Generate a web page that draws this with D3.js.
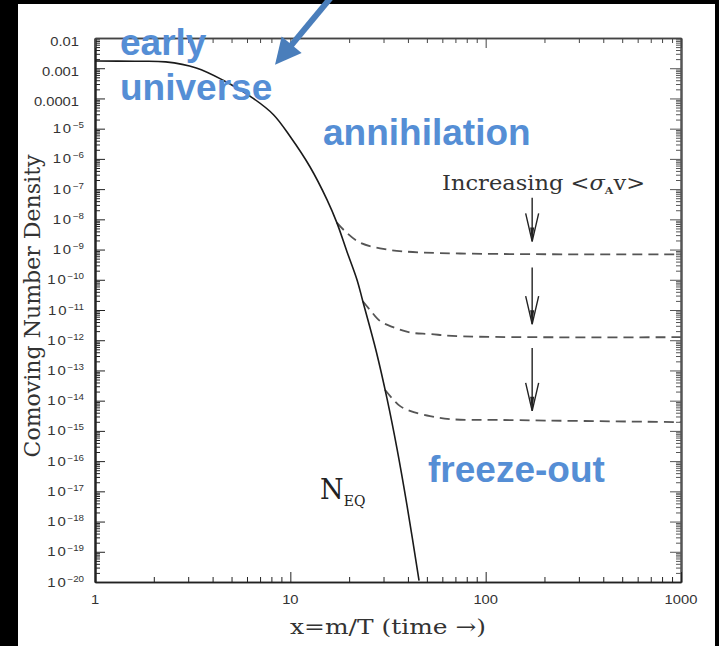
<!DOCTYPE html>
<html><head><meta charset="utf-8">
<script src="https://cdn.jsdelivr.net/npm/d3@7"></script>
<style>body{margin:0;background:#000;}svg{display:block}</style>
</head><body>
<svg id="chart" width="719" height="646"></svg>
<script>
// ---------- data ----------
const neqX = [1, 1.6, 2.3, 3.3, 4.5, 6.4, 8.2, 10, 12.6, 15.4, 17.3, 19.5, 22, 23.5, 27.5, 31.3, 35.2, 39.6, 45.6];
const neqY = [1.74e-3, 1.70e-3, 1.62e-3, 1.02e-3, 4.1e-4, 1.05e-4, 2.9e-5, 5.4e-6, 5.5e-7, 4.5e-8, 7.8e-9, 8.5e-10, 9.5e-11, 1.95e-11, 4.4e-13, 1.12e-14, 2.5e-16, 3.3e-18, 1.1e-20];

const dashAX = [17.3, 19.1, 22.7, 28.8, 37.8, 73.9, 1000];
const dashAY = [7.8e-9, 4.0e-9, 1.7e-9, 1.1e-9, 8.7e-10, 7.4e-10, 6.9e-10];
const dashBX = [23.5, 25.6, 28.8, 33.6, 41, 51.9, 73.9, 1000];
const dashBY = [1.95e-11, 1.0e-11, 4.3e-12, 2.7e-12, 1.8e-12, 1.6e-12, 1.35e-12, 1.26e-12];
const dashCX = [30.5, 33.2, 36.5, 41, 51.9, 65.7, 118.5, 1000];
const dashCY = [2.3e-14, 1.2e-14, 6.6e-15, 4.6e-15, 3.1e-15, 2.45e-15, 2.3e-15, 1.95e-15];

const arrowX = 173;
const arrowFrom = [5.2e-8, 2.57e-10, 5.5e-13];
const arrowTo = [1.86e-9, 3.4e-12, 4.6e-15];

const xTicks = [1, 10, 100, 1000];
const xTickLabels = ["1", "10", "100", "1000"];
const yTickExp = [-2, -3, -4, -5, -6, -7, -8, -9, -10, -11, -12, -13, -14, -15, -16, -17, -18, -19, -20];
const yTickPlain = {"-2": "0.01", "-3": "0.001", "-4": "0.0001"};

// annotations (data coordinates)
const blueLabels = [
  {t: "early", x: 1.343, y: 2.75e-3},
  {t: "universe", x: 1.343, y: 9.0e-5},
  {t: "annihilation", x: 14.7, y: 2.95e-6},
  {t: "freeze-out", x: 50.7, y: 2.0e-17}
];
const blueArrowTail = [16.5, 0.26];
const blueArrowTip = [8.35, 1.3e-3];
const incLabelPos = [59.8, 9.6e-8];
const neqLabelPos = [14.2, 5.6e-18];

// ---------- drawing ----------
const svg = d3.select("#chart");
svg.append("rect").attr("x", 18).attr("y", 4).attr("width", 697).attr("height", 642).attr("fill", "#fff");

const x = d3.scaleLog().domain([1, 1000]).range([95, 681]);
const y = d3.scaleLog().domain([1e-20, 1e-2]).range([582, 38]);

const defs = svg.append("defs");
defs.append("clipPath").attr("id", "clip").append("rect")
  .attr("x", 95).attr("y", 38).attr("width", 586).attr("height", 544);

const yMajor = yTickExp.map(e => Math.pow(10, e));
const yMinor = [];
yTickExp.slice(1).forEach(e => { for (let k = 2; k <= 9; k++) yMinor.push(k * Math.pow(10, e)); });
const xMinor = [];
[0, 1, 2].forEach(e => { for (let k = 2; k <= 9; k++) xMinor.push(k * Math.pow(10, e)); });

function axisStyle(g, color, w) {
  g.selectAll("path.domain").attr("stroke", color).attr("stroke-width", w);
  g.selectAll(".tick line").attr("stroke", color).attr("stroke-width", 1);
  g.selectAll("text").remove();
}
// left
svg.append("g").attr("transform", "translate(95,0)")
  .call(d3.axisLeft(y).tickValues(yMinor).tickSize(-5).tickSizeOuter(0).tickFormat(""))
  .call(g => axisStyle(g, "#222", 2));
svg.append("g").attr("transform", "translate(95,0)")
  .call(d3.axisLeft(y).tickValues(yMajor).tickSize(-10).tickSizeOuter(0).tickFormat(""))
  .call(g => axisStyle(g, "#222", 2));
// right
svg.append("g").attr("transform", "translate(681,0)")
  .call(d3.axisRight(y).tickValues(yMinor).tickSize(-5).tickSizeOuter(0).tickFormat(""))
  .call(g => axisStyle(g, "#555", 2));
svg.append("g").attr("transform", "translate(681,0)")
  .call(d3.axisRight(y).tickValues(yMajor).tickSize(-11).tickSizeOuter(0).tickFormat(""))
  .call(g => axisStyle(g, "#555", 2));
// top
svg.append("g").attr("transform", "translate(0,38)")
  .call(d3.axisTop(x).tickValues(xMinor).tickSize(-5).tickSizeOuter(0).tickFormat(""))
  .call(g => axisStyle(g, "#444", 1.5));
svg.append("g").attr("transform", "translate(0,38)")
  .call(d3.axisTop(x).tickValues(xTicks).tickSize(-10).tickSizeOuter(0).tickFormat(""))
  .call(g => axisStyle(g, "#444", 1.5));
// bottom
svg.append("g").attr("transform", "translate(0,582)")
  .call(d3.axisBottom(x).tickValues(xMinor).tickSize(-5).tickSizeOuter(0).tickFormat(""))
  .call(g => axisStyle(g, "#222", 1.5));
svg.append("g").attr("transform", "translate(0,582)")
  .call(d3.axisBottom(x).tickValues(xTicks).tickSize(-10).tickSizeOuter(0).tickFormat(""))
  .call(g => axisStyle(g, "#222", 1.5));

// tick labels (slightly wide sans, as in the scan)
const tickFont = "'Liberation Sans', Arial, sans-serif";
yTickExp.forEach(e => {
  const v = Math.pow(10, e);
  const plain = yTickPlain[String(e)];
  if (plain) {
    svg.append("text").attr("transform", `translate(79,${y(v) + 8}) scale(1.18,1)`).attr("text-anchor", "end")
      .attr("font-family", tickFont).attr("font-size", 12.5).attr("fill", "#333").text(plain);
  } else {
    const t = svg.append("text").attr("transform", `translate(84,${y(v) + 4.5}) scale(1.15,1)`).attr("text-anchor", "end")
      .attr("font-family", tickFont).attr("font-size", 13).attr("fill", "#333");
    t.append("tspan").attr("letter-spacing", 1.5).text("10");
    t.append("tspan").attr("font-size", 8.5).attr("dy", -5).text("\u2212" + (-e));
  }
});
xTicks.forEach((v, i) => {
  svg.append("text").attr("transform", `translate(${x(v)},604) scale(1.18,1)`).attr("text-anchor", "middle")
    .attr("font-family", tickFont).attr("font-size", 12.5).attr("fill", "#333").text(xTickLabels[i]);
});

// curves
const line = d3.line().x(d => x(d[0])).y(d => y(d[1])).curve(d3.curveCatmullRom.alpha(0.5));
const plot = svg.append("g").attr("clip-path", "url(#clip)");
const zip = (a, b) => a.map((v, i) => [v, b[i]]);
[[dashAX, dashAY], [dashBX, dashBY], [dashCX, dashCY]].forEach(([xs, ys]) => {
  plot.append("path").attr("d", line(zip(xs, ys))).attr("fill", "none")
    .attr("stroke", "#555").attr("stroke-width", 1.8).attr("stroke-dasharray", "10,6");
});
plot.append("path").attr("d", line(zip(neqX, neqY))).attr("fill", "none")
  .attr("stroke", "#1a1a1a").attr("stroke-width", 1.6);

// black arrows
arrowFrom.forEach((f, i) => {
  const ax = x(arrowX), y0 = y(f), y1 = y(arrowTo[i]);
  const g = svg.append("g").attr("stroke", "#222").attr("fill", "none").attr("stroke-width", 1.4);
  g.append("line").attr("x1", ax).attr("x2", ax).attr("y1", y0).attr("y2", y1);
  g.append("path").attr("d", `M${ax - 6.5},${y1 - 28}L${ax},${y1}L${ax + 6.5},${y1 - 28}`);
  svg.append("path").attr("d", `M${ax - 2},${y1 - 14}L${ax},${y1}L${ax + 2},${y1 - 14}Z`).attr("fill", "#222");
});

// serif labels
const serif = "'DejaVu Serif', serif";
const inc = svg.append("text").attr("x", x(incLabelPos[0])).attr("y", y(incLabelPos[1]))
  .attr("font-family", serif).attr("font-size", 20.5).attr("fill", "#333")
  .attr("textLength", 203).attr("lengthAdjust", "spacingAndGlyphs");
inc.append("tspan").text("Increasing <");
inc.append("tspan").attr("font-style", "italic").text("\u03C3");
inc.append("tspan").attr("font-size", 10).attr("dy", 4).attr("font-weight", "bold").text("A");
inc.append("tspan").attr("dy", -4).text("v>");

const nq = svg.append("text").attr("x", x(neqLabelPos[0])).attr("y", y(neqLabelPos[1]))
  .attr("font-family", serif).attr("font-size", 27).attr("fill", "#222");
nq.append("tspan").text("N");
nq.append("tspan").attr("font-size", 14).attr("dy", 7).text("EQ");

svg.append("text").attr("x", 388).attr("y", 634).attr("text-anchor", "middle")
  .attr("font-family", serif).attr("font-size", 21).attr("fill", "#333")
  .attr("textLength", 196).attr("lengthAdjust", "spacingAndGlyphs")
  .text("x=m/T (time \u2192)");
svg.append("text").attr("transform", "translate(40,306) rotate(-90)").attr("text-anchor", "middle")
  .attr("font-family", serif).attr("font-size", 22).attr("fill", "#333")
  .attr("textLength", 303).attr("lengthAdjust", "spacingAndGlyphs")
  .text("Comoving Number Density");

// blue annotations
blueLabels.forEach(d => {
  svg.append("text").attr("x", x(d.x)).attr("y", y(d.y))
    .attr("font-family", "'Liberation Sans', Arial, sans-serif").attr("font-weight", "bold")
    .attr("font-size", 37).attr("fill", "#558ed5").text(d.t);
});
(function () {
  const tx = x(blueArrowTail[0]), ty = y(blueArrowTail[1]);
  const hx = x(blueArrowTip[0]), hy = y(blueArrowTip[1]);
  const dx = hx - tx, dy = hy - ty, L = Math.hypot(dx, dy);
  const ux = dx / L, uy = dy / L, px = -uy, py = ux;
  const hl = 26, hw = 13;
  const bx = hx - ux * hl, by = hy - uy * hl;
  svg.append("line").attr("x1", tx).attr("y1", ty).attr("x2", bx + ux * 2).attr("y2", by + uy * 2)
    .attr("stroke", "#4a7ebb").attr("stroke-width", 6);
  svg.append("path").attr("d", `M${hx},${hy}L${bx + px * hw},${by + py * hw}L${bx - px * hw},${by - py * hw}Z`)
    .attr("fill", "#4a7ebb");
})();
</script>
</body></html>
